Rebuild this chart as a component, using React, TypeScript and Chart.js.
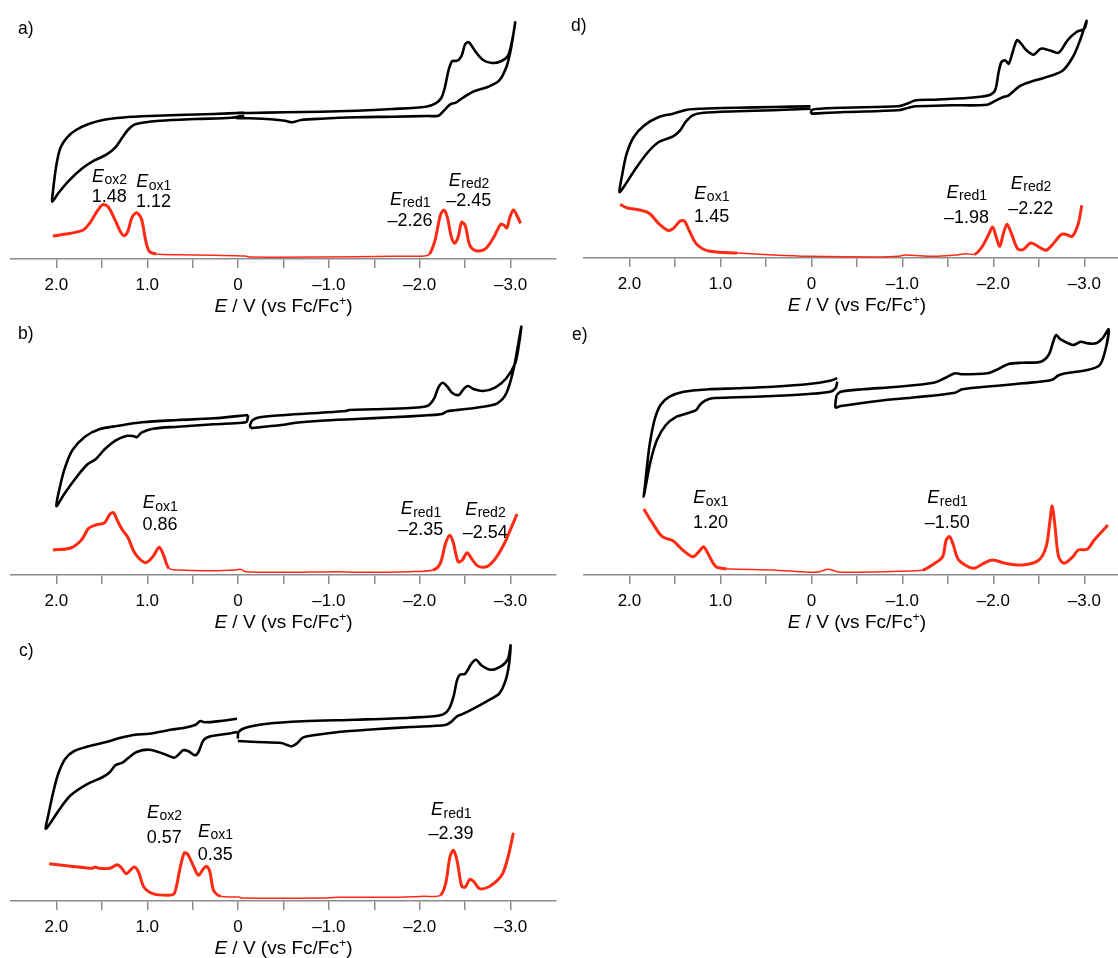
import React, { useEffect, useRef } from 'react';
import { Chart, registerables } from 'chart.js';

Chart.register(...registerables);

type Pt = [number, number]; // [E / V vs Fc/Fc+, current (a.u.)]
type Lbl = { sub: string; value: string; E: number; iSym: number; iVal: number };

// ---------- x-axis ticks ----------
const xTickValues = [2.0, 1.5, 1.0, 0.5, 0, -0.5, -1.0, -1.5, -2.0, -2.5, -3.0];
const xTickLabels = ['2.0', '', '1.0', '', '0', '', '–1.0', '', '–2.0', '', '–3.0'];

// ---------- panel a ----------
const aCvOx: Pt[] = [[-0.064,146.3],[0.270,145.0],[0.664,144.0],[0.978,143.0],[1.135,142.3],[1.332,141.0],[1.489,139.0],[1.646,135.0],[1.784,129.0],[1.882,121.7],[1.953,111.7],[1.992,98.3],[2.020,81.7],[2.039,66.7],[2.047,57.3],[1.980,65.7],[1.862,78.3],[1.725,90.0],[1.587,98.3],[1.450,104.3],[1.351,111.7],[1.273,121.7],[1.214,129.0],[1.143,134.3],[1.057,136.3],[0.860,138.3],[0.467,140.0],[0.074,141.3],[-0.068,143.3]];
const aCvRed: Pt[] = [[0.027,141.0],[-0.123,140.7],[-0.358,139.7],[-0.516,138.3],[-0.594,136.7],[-0.693,139.0],[-0.909,140.3],[-1.302,141.7],[-1.695,142.3],[-2.088,143.0],[-2.206,143.3],[-2.265,148.3],[-2.332,154.3],[-2.403,156.7],[-2.481,161.7],[-2.599,167.7],[-2.756,172.3],[-2.874,178.3],[-2.953,191.7],[-3.000,208.3],[-3.031,225.0],[-3.051,236.7],[-3.024,221.7],[-2.972,203.3],[-2.893,197.7],[-2.796,196.0],[-2.697,199.0],[-2.619,206.7],[-2.540,216.7],[-2.501,215.0],[-2.461,203.3],[-2.414,198.3],[-2.355,197.7],[-2.316,188.3],[-2.277,171.7],[-2.237,161.0],[-2.175,155.7],[-2.068,152.3],[-1.695,150.0],[-1.302,148.3],[-0.909,147.3],[-0.516,146.7],[-0.123,146.0],[0.003,146.0]];
const aDpv: Pt[] = [[2.039,23.0],[1.843,25.7],[1.705,29.0],[1.627,36.7],[1.548,48.3],[1.489,54.3],[1.430,52.3],[1.351,38.3],[1.292,26.7],[1.253,23.3],[1.214,27.7],[1.167,41.7],[1.116,46.3],[1.064,40.0],[1.017,18.3],[0.978,7.7],[0.899,5.0],[0.664,4.3],[0.270,3.7],[-0.083,3.0],[-0.123,2.0],[-0.909,2.0],[-1.695,2.7],[-2.049,3.0],[-2.108,5.0],[-2.167,18.3],[-2.226,43.3],[-2.265,49.0],[-2.304,41.7],[-2.344,23.3],[-2.383,15.7],[-2.422,21.7],[-2.461,36.7],[-2.501,33.3],[-2.552,13.3],[-2.619,8.3],[-2.717,9.7],[-2.815,21.7],[-2.893,35.0],[-2.933,33.3],[-2.960,31.0],[-2.992,41.7],[-3.031,49.0],[-3.071,43.3],[-3.110,35.7]];
const aLabels: Lbl[] = [
  { sub: 'ox2', value: '1.48', E: 1.418, iSym: 82.3, iVal: 62.3 },
  { sub: 'ox1', value: '1.12', E: 0.931, iSym: 76.7, iVal: 56.7 },
  { sub: 'red1', value: '–2.26', E: -1.892, iSym: 59.0, iVal: 38.3 },
  { sub: 'red2', value: '–2.45', E: -2.540, iSym: 78.3, iVal: 57.7 },
];

// ---------- panel b ----------
const bCvOx: Pt[] = [[-0.111,160.0],[0.270,156.7],[0.664,155.0],[1.057,152.7],[1.332,149.0],[1.528,145.7],[1.686,138.3],[1.823,125.0],[1.902,108.3],[1.961,88.3],[2.000,69.0],[1.921,80.0],[1.803,95.0],[1.666,110.0],[1.568,115.7],[1.469,125.7],[1.351,134.3],[1.233,139.0],[1.155,139.0],[1.116,137.7],[1.064,142.3],[0.939,146.3],[0.664,148.3],[0.270,150.7],[-0.044,152.3],[-0.095,153.3],[-0.111,160.0]];
const bCvRed: Pt[] = [[-0.142,146.7],[-0.280,148.3],[-0.476,150.0],[-0.634,152.3],[-0.909,154.3],[-1.302,156.0],[-1.695,157.7],[-2.088,159.7],[-2.245,161.0],[-2.304,163.7],[-2.481,165.7],[-2.678,168.0],[-2.854,171.7],[-2.953,181.7],[-3.031,205.0],[-3.079,228.3],[-3.118,248.3],[-3.094,231.7],[-3.051,211.7],[-2.953,196.7],[-2.835,187.7],[-2.697,184.0],[-2.599,185.7],[-2.529,189.0],[-2.481,185.7],[-2.430,180.0],[-2.355,182.3],[-2.304,188.3],[-2.253,192.3],[-2.206,187.7],[-2.159,176.7],[-2.088,169.3],[-1.892,167.0],[-1.498,165.7],[-1.223,165.0],[-1.184,164.0],[-0.909,162.3],[-0.516,160.0],[-0.241,157.7],[-0.162,155.0],[-0.131,150.0],[-0.142,146.7]];
const bDpv: Pt[] = [[2.039,25.0],[1.843,27.0],[1.725,35.0],[1.646,46.7],[1.568,50.0],[1.469,52.3],[1.410,61.0],[1.371,62.3],[1.332,55.0],[1.273,45.0],[1.214,37.7],[1.135,21.7],[1.017,12.3],[0.939,18.3],[0.868,27.7],[0.821,20.0],[0.762,6.7],[0.664,5.0],[0.270,4.3],[0.035,5.0],[-0.024,5.7],[-0.083,3.3],[-0.516,2.7],[-1.105,3.3],[-1.302,2.7],[-1.892,3.3],[-2.147,5.0],[-2.226,11.7],[-2.285,31.7],[-2.332,39.7],[-2.371,31.7],[-2.422,13.3],[-2.469,15.0],[-2.521,22.3],[-2.568,16.7],[-2.639,9.0],[-2.737,8.3],[-2.835,16.7],[-2.933,31.7],[-3.012,48.3],[-3.071,61.0]];
const bLabels: Lbl[] = [
  { sub: 'ox1', value: '0.86', E: 0.860, iSym: 71.7, iVal: 50.0 },
  { sub: 'red1', value: '–2.35', E: -2.010, iSym: 65.7, iVal: 45.0 },
  { sub: 'red2', value: '–2.54', E: -2.720, iSym: 65.0, iVal: 41.7 },
];

// ---------- panel c ----------
const cCvOx: Pt[] = [[0.011,182.3],[0.192,180.0],[0.369,178.7],[0.416,180.0],[0.467,176.3],[0.585,173.3],[0.742,171.3],[0.978,167.3],[1.135,166.3],[1.292,163.3],[1.450,159.0],[1.646,154.7],[1.803,150.0],[1.902,142.3],[1.980,127.3],[2.039,107.3],[2.086,87.3],[2.118,72.3],[2.059,79.0],[1.961,92.3],[1.843,105.7],[1.666,116.7],[1.489,124.0],[1.410,129.0],[1.351,135.7],[1.273,138.3],[1.206,143.3],[1.116,149.0],[0.978,151.3],[0.821,147.3],[0.703,143.3],[0.652,146.7],[0.605,150.7],[0.546,149.7],[0.475,145.7],[0.436,149.0],[0.381,160.7],[0.302,164.7],[0.113,167.3],[0.007,169.0]];
const cCvRed: Pt[] = [[0.003,160.0],[-0.201,159.0],[-0.476,158.0],[-0.547,155.7],[-0.594,154.7],[-0.653,158.0],[-0.712,163.3],[-0.830,165.7],[-1.105,169.0],[-1.498,171.7],[-1.892,174.0],[-2.285,176.0],[-2.344,179.0],[-2.410,184.7],[-2.481,187.3],[-2.638,194.7],[-2.756,200.7],[-2.874,207.3],[-2.945,220.7],[-2.984,237.3],[-3.000,255.7],[-2.972,242.3],[-2.894,234.7],[-2.776,231.3],[-2.678,235.7],[-2.619,241.3],[-2.568,237.3],[-2.501,227.3],[-2.442,226.3],[-2.410,220.7],[-2.371,204.0],[-2.316,191.3],[-2.226,185.7],[-1.892,183.3],[-1.302,181.3],[-0.712,179.7],[-0.319,177.3],[-0.083,173.3],[-0.005,169.0],[0.003,162.3]];
const cDpv: Pt[] = [[2.079,37.3],[1.843,34.7],[1.686,33.3],[1.607,32.7],[1.575,34.0],[1.528,32.7],[1.410,32.7],[1.332,36.3],[1.285,33.3],[1.233,27.3],[1.194,30.0],[1.143,34.0],[1.096,29.0],[1.037,14.0],[0.939,7.3],[0.782,5.7],[0.703,7.3],[0.644,30.7],[0.593,48.0],[0.554,46.7],[0.487,34.0],[0.436,25.7],[0.389,31.3],[0.349,34.7],[0.310,29.0],[0.270,10.7],[0.192,4.7],[-0.005,4.0],[-0.044,3.0],[-0.909,3.0],[-1.105,3.7],[-1.695,3.7],[-2.049,4.7],[-2.226,5.7],[-2.285,17.3],[-2.332,44.0],[-2.371,50.7],[-2.410,40.7],[-2.462,14.7],[-2.501,14.0],[-2.552,21.7],[-2.599,19.0],[-2.658,12.3],[-2.756,14.0],[-2.854,20.7],[-2.913,27.3],[-2.972,44.0],[-3.031,68.3]];
const cLabels: Lbl[] = [
  { sub: 'ox2', value: '0.57', E: 0.813, iSym: 88.0, iVal: 63.3 },
  { sub: 'ox1', value: '0.35', E: 0.251, iSym: 69.0, iVal: 45.7 },
  { sub: 'red1', value: '–2.39', E: -2.344, iSym: 90.7, iVal: 67.3 },
];

// ---------- panel d ----------
const dCvOx: Pt[] = [[0.010,151.7],[0.422,151.0],[0.815,150.3],[1.207,149.3],[1.364,148.3],[1.521,144.3],[1.678,141.0],[1.835,132.7],[1.953,121.0],[2.031,104.3],[2.078,84.3],[2.110,66.0],[2.051,72.7],[1.933,89.3],[1.796,106.0],[1.678,116.0],[1.521,121.7],[1.443,127.7],[1.384,136.0],[1.305,142.7],[1.207,145.0],[0.815,146.7],[0.422,147.7],[0.010,149.3]];
const dCvRed: Pt[] = [[0.006,144.3],[-0.363,146.0],[-0.951,147.7],[-1.069,150.3],[-1.148,151.7],[-1.540,152.7],[-1.933,153.3],[-2.031,157.7],[-2.109,161.0],[-2.168,162.7],[-2.286,171.7],[-2.403,176.0],[-2.560,180.3],[-2.756,187.0],[-2.874,201.0],[-2.953,217.7],[-3.024,237.0],[-3.000,229.3],[-2.914,226.0],[-2.815,217.7],[-2.717,205.3],[-2.619,207.7],[-2.521,209.3],[-2.443,203.3],[-2.364,207.7],[-2.305,214.3],[-2.258,217.7],[-2.207,204.3],[-2.168,194.3],[-2.129,197.7],[-2.089,196.0],[-2.058,186.0],[-2.019,167.7],[-1.952,162.7],[-1.736,160.3],[-1.344,158.3],[-1.148,157.7],[-1.049,154.3],[-0.951,151.7],[-0.363,150.3],[-0.049,149.0],[-0.002,147.7],[0.006,144.3]];
const dDpv: Pt[] = [[2.102,53.7],[2.031,50.3],[1.874,47.7],[1.776,44.3],[1.678,34.3],[1.580,27.7],[1.521,29.3],[1.443,37.0],[1.396,37.0],[1.345,27.7],[1.266,14.3],[1.129,7.0],[0.815,5.0],[0.422,3.0],[0.030,1.7],[-0.755,1.0],[-0.951,1.7],[-1.030,3.0],[-1.344,1.7],[-1.580,3.0],[-1.697,4.3],[-1.795,3.7],[-1.874,11.0],[-1.952,24.3],[-1.992,31.0],[-2.031,21.0],[-2.070,11.7],[-2.109,24.3],[-2.150,33.7],[-2.199,24.3],[-2.266,9.3],[-2.325,8.3],[-2.411,15.0],[-2.501,11.0],[-2.580,7.7],[-2.658,14.3],[-2.748,23.7],[-2.795,23.7],[-2.866,21.7],[-2.933,34.3],[-2.972,52.7]];
const dLabels: Lbl[] = [
  { sub: 'ox1', value: '1.45', E: 1.097, iSym: 64.3, iVal: 41.0 },
  { sub: 'red1', value: '–1.98', E: -1.705, iSym: 65.0, iVal: 40.3 },
  { sub: 'red2', value: '–2.22', E: -2.411, iSym: 74.3, iVal: 49.3 },
];

// ---------- panel e ----------
const eCvOx: Pt[] = [[-0.284,196.7],[-0.206,194.3],[0.030,191.0],[0.422,188.3],[0.815,186.7],[1.129,185.7],[1.404,183.3],[1.560,178.3],[1.659,170.0],[1.725,155.0],[1.776,131.7],[1.804,111.7],[1.827,91.7],[1.843,78.3],[1.816,91.7],[1.765,115.0],[1.698,135.0],[1.600,150.0],[1.482,158.3],[1.364,161.7],[1.266,165.0],[1.227,170.0],[1.168,174.3],[1.089,176.7],[0.815,177.7],[0.422,179.0],[0.030,181.0],[-0.206,183.3],[-0.265,186.7],[-0.284,193.3]];
const eCvRed: Pt[] = [[-0.276,180.0],[-0.323,183.3],[-0.559,185.7],[-0.951,188.3],[-1.344,192.3],[-1.462,196.7],[-1.579,201.7],[-1.658,200.7],[-1.933,201.7],[-2.031,205.0],[-2.168,211.0],[-2.325,212.3],[-2.521,213.3],[-2.607,220.0],[-2.658,233.3],[-2.690,240.0],[-2.737,235.7],[-2.874,230.0],[-2.961,233.3],[-3.031,231.7],[-3.129,231.7],[-3.208,237.7],[-3.267,245.7],[-3.236,226.7],[-3.170,210.0],[-3.031,205.0],[-2.795,201.7],[-2.717,199.7],[-2.639,195.0],[-2.325,191.7],[-2.011,189.0],[-1.658,185.7],[-1.579,182.3],[-1.148,177.7],[-0.755,174.3],[-0.323,169.0],[-0.265,167.7],[-0.276,180.0]];
const eDpv: Pt[] = [[1.843,66.0],[1.757,53.3],[1.639,38.3],[1.521,34.3],[1.423,25.7],[1.305,18.3],[1.227,24.3],[1.188,28.3],[1.148,23.3],[1.050,8.3],[0.933,6.3],[0.422,5.0],[0.030,2.7],[-0.088,3.3],[-0.186,5.7],[-0.284,3.3],[-0.441,2.7],[-0.951,3.7],[-1.226,5.0],[-1.344,11.0],[-1.442,18.3],[-1.481,35.0],[-1.520,38.3],[-1.560,30.0],[-1.619,15.0],[-1.776,6.7],[-1.893,11.7],[-1.992,15.0],[-2.129,11.7],[-2.325,10.0],[-2.501,15.0],[-2.580,28.3],[-2.619,51.7],[-2.647,69.0],[-2.678,48.3],[-2.717,18.3],[-2.776,11.7],[-2.874,18.3],[-2.933,25.0],[-3.031,25.7],[-3.109,35.0],[-3.258,50.0]];
const eLabels: Lbl[] = [
  { sub: 'ox1', value: '1.20', E: 1.109, iSym: 76.7, iVal: 52.3 },
  { sub: 'red1', value: '–1.50', E: -1.493, iSym: 76.7, iVal: 52.3 },
];

// ---------- layout (pixels, not data) ----------
const FONT = '"Liberation Sans", Arial, Helvetica, sans-serif';
const X_AXIS_H = 40;

type Panel = {
  letter: string; cvOx: Pt[]; cvRed: Pt[]; dpv: Pt[]; labels: Lbl[];
  left: number; top: number; width: number; height: number;
  axisY: number; padL: number; padR: number; padT: number;
  xMin: number; xMax: number; letterX: number; letterY: number;
};

const panels: Panel[] = [
  { letter: 'a)', cvOx: aCvOx, cvRed: aCvRed, dpv: aDpv, labels: aLabels, left: 0, top: 0, width: 560, height: 316, axisY: 259, padL: 11, padR: 4, padT: 8, xMin: -3.5, xMax: 2.5, letterX: 18, letterY: 29 },
  { letter: 'b)', cvOx: bCvOx, cvRed: bCvRed, dpv: bDpv, labels: bLabels, left: 0, top: 316, width: 560, height: 316, axisY: 259, padL: 11, padR: 4, padT: 6, xMin: -3.5, xMax: 2.5, letterX: 18, letterY: 18 },
  { letter: 'c)', cvOx: cCvOx, cvRed: cCvRed, dpv: cDpv, labels: cLabels, left: 0, top: 636, width: 560, height: 322, axisY: 265, padL: 11, padR: 4, padT: 5, xMin: -3.5, xMax: 2.5, letterX: 19, letterY: 15 },
  { letter: 'd)', cvOx: dCvOx, cvRed: dCvRed, dpv: dDpv, labels: dLabels, left: 560, top: 0, width: 558, height: 316, axisY: 258, padL: 24, padR: 0, padT: 8, xMin: -3.37, xMax: 2.5, letterX: 11, letterY: 26 },
  { letter: 'e)', cvOx: eCvOx, cvRed: eCvRed, dpv: eDpv, labels: eLabels, left: 560, top: 316, width: 558, height: 316, axisY: 259, padL: 24, padR: 0, padT: 6, xMin: -3.37, xMax: 2.5, letterX: 12, letterY: 19 },
];

const toXY = (pts: Pt[]) => pts.map(([x, y]) => ({ x, y }));

function PanelChart({ p }: { p: Panel }) {
  const ref = useRef<HTMLCanvasElement | null>(null);
  useEffect(() => {
    if (!ref.current) return;
    const textPlugin = {
      id: 'cvText',
      afterDraw(chart: any) {
        const { ctx } = chart;
        const xs = chart.scales.x;
        const ys = chart.scales.y;
        ctx.save();
        ctx.fillStyle = '#000';
        ctx.textBaseline = 'middle';
        // panel letter
        ctx.textAlign = 'left';
        ctx.font = `17.5px ${FONT}`;
        ctx.fillText(p.letter, p.letterX, p.letterY);
        // peak labels
        for (const l of p.labels) {
          const cx = xs.getPixelForValue(l.E);
          ctx.font = `italic 18px ${FONT}`;
          const wE = ctx.measureText('E').width;
          ctx.font = `14px ${FONT}`;
          const wS = ctx.measureText(l.sub).width;
          const x0 = cx - (wE + wS) / 2;
          const yS = ys.getPixelForValue(l.iSym);
          ctx.textAlign = 'left';
          ctx.font = `italic 18px ${FONT}`;
          ctx.fillText('E', x0, yS);
          ctx.font = `14px ${FONT}`;
          ctx.fillText(l.sub, x0 + wE + 0.5, yS + 3.5);
          ctx.textAlign = 'center';
          ctx.font = `18px ${FONT}`;
          ctx.fillText(l.value, cx, ys.getPixelForValue(l.iVal));
        }
        // axis title: E / V (vs Fc/Fc+)
        const ty = p.axisY + 48;
        const tc = xs.getPixelForValue(-0.5);
        const parts: [string, string, number][] = [
          ['E', `italic 19px ${FONT}`, 0],
          [' / V (vs Fc/Fc', `19px ${FONT}`, 0],
          ['+', `12.5px ${FONT}`, -5],
          [')', `19px ${FONT}`, 0],
        ];
        let total = 0;
        const widths = parts.map(([t, f]) => { ctx.font = f; const w = ctx.measureText(t).width; total += w; return w; });
        let cur = tc - total / 2;
        ctx.textAlign = 'left';
        parts.forEach(([t, f, dy], i) => { ctx.font = f; ctx.fillText(t, cur, ty + dy); cur += widths[i]; });
        ctx.restore();
      },
    };
    const cvStyle = { showLine: true, borderColor: '#000', borderWidth: 2.6, pointRadius: 0, tension: 0.3, fill: false };
    const chart = new Chart(ref.current, {
      type: 'scatter',
      data: {
        datasets: [
          { ...cvStyle, data: toXY(p.cvOx) },
          { ...cvStyle, data: toXY(p.cvRed) },
          {
            showLine: true, borderColor: '#ff2a14', borderWidth: 3, pointRadius: 0, tension: 0.3, fill: false,
            data: toXY(p.dpv),
            segment: { borderWidth: (c: any) => (Math.max(c.p0.parsed.y, c.p1.parsed.y) < 7 ? 1.5 : 3) },
          } as any,
        ],
      },
      options: {
        animation: false,
        responsive: false,
        maintainAspectRatio: false,
        events: [],
        layout: { padding: { left: p.padL, right: p.padR, top: p.padT, bottom: p.height - p.axisY - X_AXIS_H } },
        plugins: { legend: { display: false }, tooltip: { enabled: false }, title: { display: false } },
        scales: {
          x: {
            type: 'linear',
            reverse: true,
            min: p.xMin,
            max: p.xMax,
            border: { display: true, color: '#8c8c8c', width: 1.5 },
            grid: { drawOnChartArea: false, drawTicks: true, tickLength: 9, color: '#8c8c8c', lineWidth: 1.5 },
            ticks: {
              autoSkip: false,
              maxRotation: 0,
              padding: 7,
              color: '#000',
              font: { family: FONT, size: 17 },
              callback: (v: any) => {
                const i = xTickValues.findIndex((t) => Math.abs(t - Number(v)) < 1e-6);
                return i >= 0 ? xTickLabels[i] : '';
              },
            },
            afterBuildTicks: (scale: any) => { scale.ticks = xTickValues.map((value) => ({ value })); },
            afterFit: (scale: any) => { scale.height = X_AXIS_H; },
          },
          y: { display: false, min: 0, max: p.axisY - p.padT },
        },
      },
      plugins: [textPlugin],
    });
    return () => chart.destroy();
  }, [p]);
  return (
    <canvas
      ref={ref}
      width={p.width}
      height={p.height}
      style={{ position: 'absolute', left: p.left, top: p.top, width: p.width, height: p.height }}
    />
  );
}

export default function App() {
  return (
    <div style={{ position: 'absolute', left: 0, top: 0, width: 1118, height: 958, background: '#fff' }}>
      {panels.map((p) => (
        <PanelChart key={p.letter} p={p} />
      ))}
    </div>
  );
}
